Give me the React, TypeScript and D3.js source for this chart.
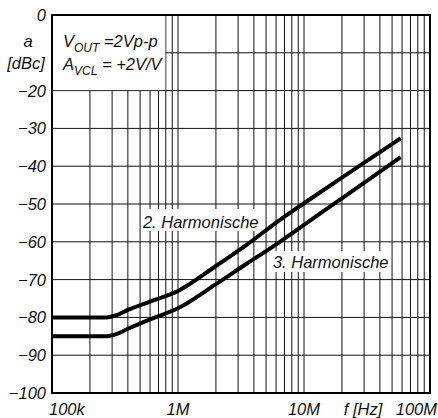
import * as d3 from "d3";

const freqs = [1e5, 2e5, 2.7e5, 3.2e5, 4e5, 6e5, 1e6, 2e6, 3.5e6, 6.45e6, 1e7, 2e7, 5.85e7];
const harm2 = [-80, -80, -80, -79.5, -78, -75.8, -73, -66.4, -60.8, -54.2, -49.8, -43.0, -32.6];
const harm3 = [-85, -85, -85, -84.5, -83, -80.5, -77.6, -71.2, -65.8, -60, -55.5, -48.5, -37.6];

const yTicks = [0, -10, -20, -30, -40, -50, -60, -70, -80, -90, -100];
const yLabels = ["0", "", "−20", "−30", "−40", "−50", "−60", "−70", "−80", "−90", "−100"];
const xMajors = [1e5, 1e6, 1e7, 1e8];
const xLabels = ["100k", "1M", "10M", "100M"];

const width = 438;
const height = 418;
const marginLeft = 52;
const marginTop = 15;
const marginRight = 8;
const marginBottom = 25;

const font = "'Liberation Sans', Arial, sans-serif";

export default function App() {
    const x = d3.scaleLog([1e5, 1e8], [marginLeft, width - marginRight]);
    const y = d3.scaleLinear([-100, 0], [height - marginBottom, marginTop]);
    const line = d3.line<number>((d, i) => x(freqs[i]), (d) => y(d)).curve(d3.curveMonotoneX);

    // minor + major vertical grid
    const vLines: number[] = [];
    for (let dec = 1e5; dec < 1e8; dec *= 10) {
        for (let k = 1; k < 10; k++) vLines.push(dec * k);
    }

    const boxRight = x(8e5);
    const boxBottom = y(-20);

    return (
        <div style={{ position: "absolute", left: 0, top: 0 }}>
            <svg width={width} height={height} style={{ display: "block", background: "white" }}>
                {/* grid */}
                <g stroke="#111" strokeWidth={1}>
                    {vLines.map((f) => (
                        <line key={f} x1={x(f)} x2={x(f)} y1={y(0)} y2={y(-100)} />
                    ))}
                    {yTicks.map((t) => (
                        <line key={t} x1={x(1e5)} x2={x(1e8)} y1={y(t)} y2={y(t)} />
                    ))}
                </g>
                {/* annotation box */}
                <rect x={marginLeft} y={marginTop} width={boxRight - marginLeft - 0.5} height={boxBottom - marginTop - 0.5} fill="white" />
                <g fontFamily={font} fontStyle="italic" fontSize={16.5} fill="#111">
                    <text x={63} y={47}>
                        V<tspan fontSize={12} dy={5}>OUT</tspan>
                        <tspan dy={-5}> =2Vp-p</tspan>
                    </text>
                    <text x={63} y={70}>
                        A<tspan fontSize={12} dy={5}>VCL</tspan>
                        <tspan dy={-5}> = +2V/V</tspan>
                    </text>
                </g>
                {/* curve labels with white background */}
                <rect x={141} y={209} width={120} height={22} fill="white" />
                <rect x={270} y={251} width={120} height={21} fill="white" />
                <g fontFamily={font} fontStyle="italic" fontSize={16.5} fill="#111">
                    <text x={x(5.27e5)} y={y(-56.3)}>2. Harmonische</text>
                    <text x={x(5.67e6)} y={y(-67)}>3. Harmonische</text>
                </g>
                {/* curves */}
                <path d={line(harm2) ?? ""} fill="none" stroke="#000" strokeWidth={4} strokeLinejoin="round" />
                <path d={line(harm3) ?? ""} fill="none" stroke="#000" strokeWidth={4} strokeLinejoin="round" />
                {/* frame */}
                <rect x={x(1e5)} y={y(0)} width={x(1e8) - x(1e5)} height={y(-100) - y(0)} fill="none" stroke="#000" strokeWidth={2} />
                {/* axis labels */}
                <g fontFamily={font} fontStyle="italic" fontSize={16.5} fill="#111">
                    {yTicks.map((t, i) => (
                        <text key={t} x={marginLeft - 6} y={y(t)} dy="0.36em" textAnchor="end">{yLabels[i]}</text>
                    ))}
                    {xMajors.map((f, i) => (
                        <text key={f} x={i === 0 ? x(f) - 3 : i === 3 ? width - 1 : x(f)} y={415}
                            textAnchor={i === 0 ? "start" : i === 3 ? "end" : "middle"}>{xLabels[i]}</text>
                    ))}
                    <text x={363} y={415} textAnchor="middle">f [Hz]</text>
                    <text x={28} y={47} textAnchor="middle">a</text>
                    <text x={26} y={69} textAnchor="middle">[dBc]</text>
                </g>
            </svg>
        </div>
    );
}
